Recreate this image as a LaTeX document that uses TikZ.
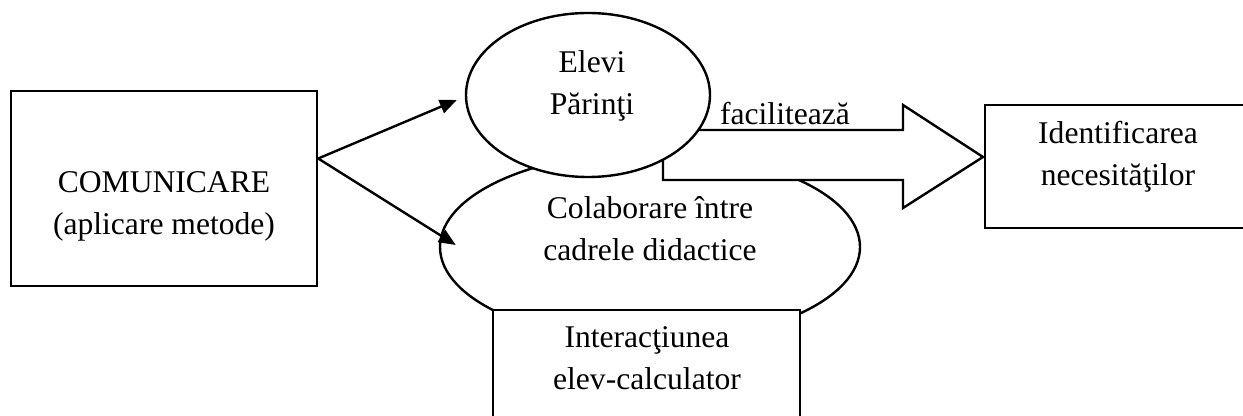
\documentclass[tikz,border=0pt]{standalone}
\usepackage{fontspec}
\setmainfont{Liberation Serif}
\usetikzlibrary{arrows.meta,shapes.geometric}
\tikzset{
  box/.style={draw, line width=1.2pt, fill=white, inner sep=0pt},
  oval/.style={draw, ellipse, line width=1.2pt, fill=white, inner sep=0pt},
  txt/.style={align=center, font=\fontsize{15.8}{21}\selectfont},
  arr/.style={line width=1.2pt, -{Triangle[length=8.5pt,width=7pt]}}
}
\begin{document}
\begin{tikzpicture}[x=0.5pt,y=-0.5pt]
  \useasboundingbox (0,0) rectangle (1243,416);
  \clip (0,0) rectangle (1243,416);
  % left box
  \node[box, minimum width=153pt, minimum height=97.5pt] (com) at (164,188.5) {};
  \node[txt] (comtxt) at (164,206) {COMUNICARE\\(aplicare metode)};
  % lower ellipse and box under it
  \node[oval, minimum width=210pt, minimum height=95pt] (col) at (650,247) {};
  \node[txt] (coltxt) at (650,229) {Colaborare între\\cadrele didactice};
  \node[box, minimum width=153.5pt, minimum height=65pt] (int) at (646.5,375) {};
  \node[txt] (inttxt) at (647,358) {Interacţiunea\\elev-calculator};
  % block arrow
  \draw[line width=1.2pt, fill=white] (663,130) -- (903,130) -- (903,105) -- (983,157)
    -- (903,208) -- (903,180) -- (663,180) -- cycle;
  \node[txt, anchor=base] (fac) at (785,125) {facilitează};
  % upper ellipse
  \node[oval, minimum width=122pt, minimum height=82pt] (ev) at (588,95) {};
  \node[txt] (evtxt) at (592,86) {Elevi\\Părinţi};
  % right box
  \node[box, minimum width=152.5pt, minimum height=61.5pt] (idf) at (1137.5,166.5) {};
  \node[txt] (idftxt) at (1118,157) {Identificarea\\necesităţilor};
  % arrows
  \coordinate (src) at ([yshift=15pt]com.east);
  \draw[arr] (src) -- ([shift={(-4pt,-2.5pt)}]ev.west);
  \draw[arr] (src) -- ([shift={(8.5pt,1pt)}]col.west);
\end{tikzpicture}
\end{document}
